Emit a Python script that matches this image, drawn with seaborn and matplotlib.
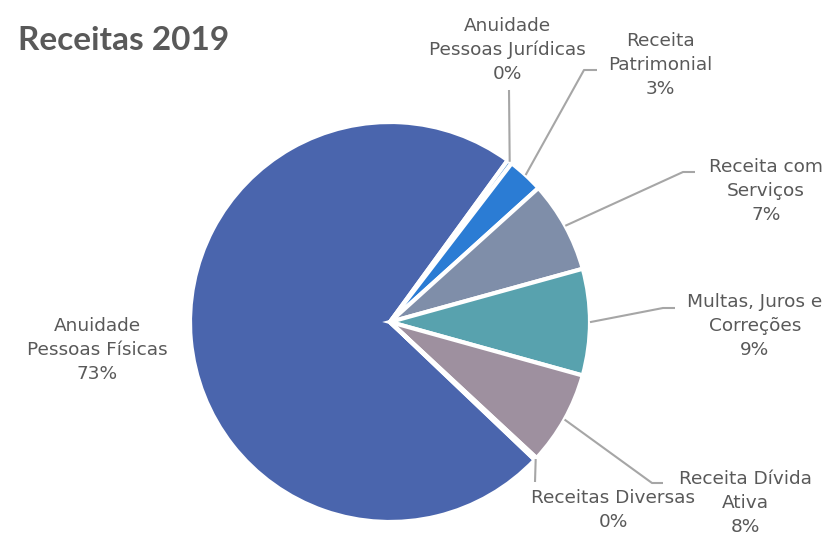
import numpy as np
import matplotlib
matplotlib.use("Agg")
import matplotlib.pyplot as plt
import seaborn as sns

sns.set_style("white")
plt.rcParams['font.family'] = ['DejaVu Sans']

# dados
categorias = ["Anuidade\nPessoas Físicas", "Anuidade\nPessoas Jurídicas", "Receita\nPatrimonial",
              "Receita com\nServiços", "Multas, Juros e\nCorreções", "Receita Dívida\nAtiva",
              "Receitas Diversas"]
valores = [72.9, 0.4, 2.9, 7.4, 8.6, 7.6, 0.2]
cores = ["#4A65AD", "#5B9BD5", "#2B7CD4", "#7F8EA9", "#58A2AE", "#9E909F", "#A5A5A5"]

W, H = 837, 537
centro = (390, H - 322)
raio = 200

# posicao dos rotulos (px) e cotovelos das linhas guia
pos_rotulo = [(97, 350), (507, 50), (660, 65), (766, 191), (755, 326), (745, 503), (613, 510)]
cotovelo = [None, (509, 90), (584, 70), (683, 172), (663, 308), (652, 483), (535, 482)]
fim_linha = [None, (509, 90), (597, 70), (695, 172), (675, 308), (663, 483), (535, 482)]

fig = plt.figure(figsize=(W / 100, H / 100), dpi=100)
ax = fig.add_axes([0, 0, 1, 1])

wedges, _ = ax.pie(valores, colors=cores, startangle=-43.6, counterclock=False,
                   center=centro, radius=raio,
                   wedgeprops=dict(edgecolor='white', linewidth=3))
ax.set_xlim(0, W)
ax.set_ylim(0, H)
ax.set_aspect('auto')
ax.axis('off')

cinza = "#595959"
for i, w in enumerate(wedges):
    txt = "%s\n%d%%" % (categorias[i], round(valores[i]))
    x, y = pos_rotulo[i]
    ax.text(x, H - y, txt, ha='center', va='center', fontsize=13.3, color=cinza,
            linespacing=1.42)
    if cotovelo[i] is None:
        continue
    ang = np.deg2rad((w.theta1 + w.theta2) / 2)
    x0 = centro[0] + raio * np.cos(ang)
    y0 = centro[1] + raio * np.sin(ang)
    xs = [x0, cotovelo[i][0], fim_linha[i][0]]
    ys = [y0, H - cotovelo[i][1], H - fim_linha[i][1]]
    ax.plot(xs, ys, color="#A6A6A6", linewidth=1.5, solid_capstyle='butt')

ax.text(18, H - 40, "Receitas 2019", fontsize=24, fontweight='bold', color=cinza,
        ha='left', va='center', family=['Lato', 'DejaVu Sans'])

fig.savefig("out.png", dpi=100)
